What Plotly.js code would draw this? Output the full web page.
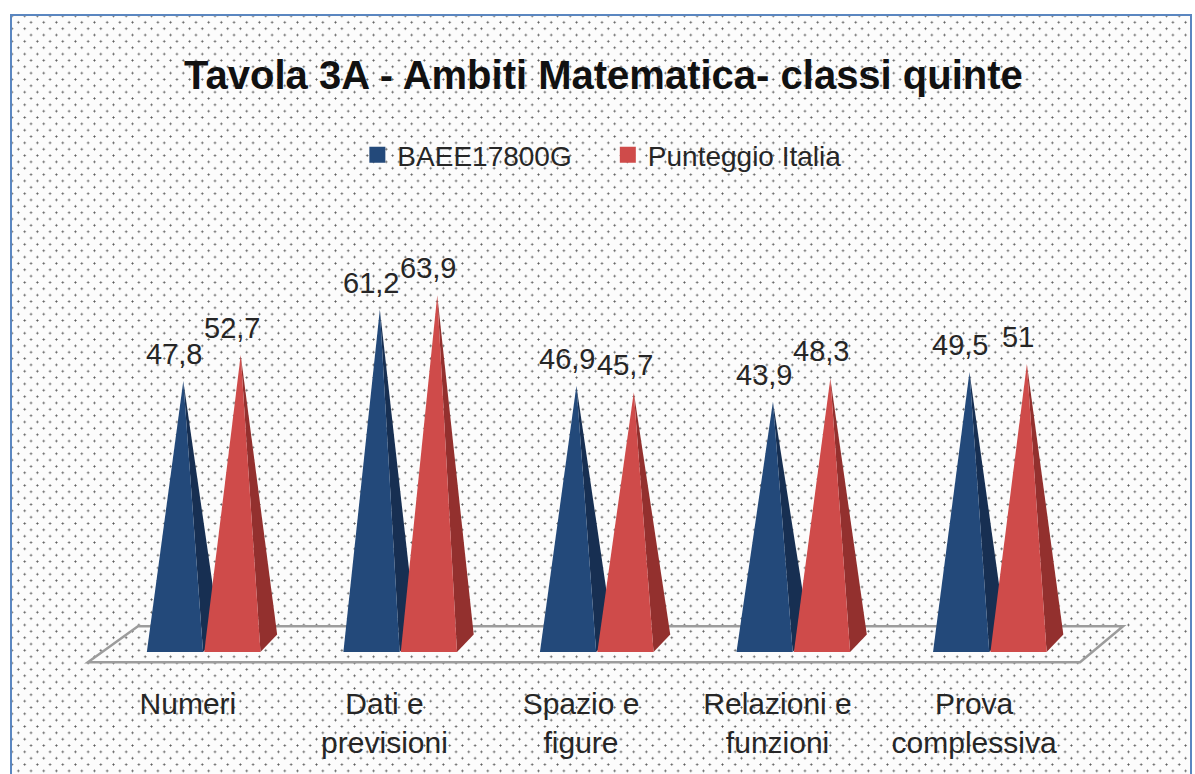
<!DOCTYPE html>
<html>
<head>
<meta charset="utf-8">
<script src="https://cdn.plot.ly/plotly-3.0.1.min.js"></script>
<style>
  html, body { margin: 0; padding: 0; background: #ffffff; overflow: hidden; }
  #frame {
    position: absolute; left: 10px; top: 14px; width: 1178px; height: 800px;
    border: 2px solid #5a86c0;
    background-color: #fcfcfc;
    background-image:
      radial-gradient(circle, #5a5a5a 0.8px, rgba(0,0,0,0) 1.3px),
      radial-gradient(circle, #5a5a5a 0.8px, rgba(0,0,0,0) 1.3px);
    background-size: 12.7px 12.7px, 12.7px 12.7px;
    background-position: 0px 0px, 6.35px 6.35px;
  }
  #chart { position: absolute; left: 0; top: 0; width: 1195px; height: 774px; }
</style>
</head>
<body>
<div id="frame"></div>
<div id="chart"></div>
<script>
// ---- data ----
const categories = ["Numeri", "Dati e<br>previsioni", "Spazio e<br>figure", "Relazioni e<br>funzioni", "Prova<br>complessiva"];
const seriesNames = ["BAEE17800G", "Punteggio Italia"];
const baee = [47.8, 61.2, 46.9, 43.9, 49.5];
const italia = [52.7, 63.9, 45.7, 48.3, 51];

// ---- styling / geometry of the pseudo-3D pyramids ----
const frontColors = ["#23497a", "#cf4b4a"];
const sideColors = ["#172f52", "#93302e"];
const centerOffset = [-0.066, 0.226];   // offset of each series from the category position
const halfWidth = 0.143;
const depthX = 0.085;
const baseFront = -3.0;
const baseBack = 0.3;

const series = [baee, italia];
const traces = [];
const annotations = [];
const fmt = v => String(v).replace('.', ',');

categories.forEach((c, i) => {
  series.forEach((vals, s) => {
    const v = vals[i];
    const xc = i + centerOffset[s];
    const apexX = xc + depthX / 2;
    // side face
    traces.push({
      type: 'scatter', mode: 'lines', fill: 'toself', hoverinfo: 'skip', showlegend: false,
      x: [xc + halfWidth, xc + halfWidth + depthX, apexX, xc + halfWidth],
      y: [baseFront, baseBack, v, baseFront],
      line: { width: 0, color: sideColors[s] }, fillcolor: sideColors[s]
    });
    // front face
    traces.push({
      type: 'scatter', mode: 'lines', fill: 'toself', hoverinfo: 'skip', showlegend: false,
      x: [xc - halfWidth, xc + halfWidth, apexX, xc - halfWidth],
      y: [baseFront, baseFront, v, baseFront],
      line: { width: 0, color: frontColors[s] }, fillcolor: frontColors[s]
    });
    annotations.push({
      x: apexX, y: v, xref: 'x', yref: 'y', text: fmt(v), showarrow: false,
      xshift: -9, yshift: 27,
      font: { family: 'Liberation Sans, Arial, sans-serif', size: 29, color: '#262626' }
    });
  });
});

// legend entries
seriesNames.forEach((n, s) => {
  traces.push({
    type: 'scatter', mode: 'markers', x: [null], y: [null],
    name: s === 0 ? n + '\u00A0\u00A0\u00A0\u00A0' : n,
    marker: { symbol: 'square', size: 17, color: frontColors[s] }
  });
});

// floor of the 3D plot
const floor = { x: [-0.509, 4.539, 4.758, -0.254], y: [-4.9, -4.9, 1.85, 1.85] };

const layout = {
  width: 1195, height: 774,
  margin: { l: 70, r: 44, t: 236, b: 106 },
  paper_bgcolor: 'rgba(0,0,0,0)', plot_bgcolor: 'rgba(0,0,0,0)',
  font: { family: 'Liberation Sans, Arial, sans-serif', color: '#262626' },
  title: {
    text: '<b>Tavola 3A - Ambiti Matematica- classi quinte</b>',
    x: 0.505, xanchor: 'center', y: 0.903, yanchor: 'middle', yref: 'container',
    font: { family: 'Liberation Sans, Arial, sans-serif', size: 40, color: '#111' }
  },
  showlegend: true,
  legend: {
    orientation: 'h', x: 0.492, xanchor: 'center', y: 1.1875, yanchor: 'middle',
    bgcolor: 'rgba(0,0,0,0)', font: { size: 28, color: '#262626' }, itemwidth: 30
  },
  xaxis: {
    range: [-0.6, 4.9], tickvals: [0, 1, 2, 3, 4], ticktext: categories,
    showgrid: false, zeroline: false, showline: false, ticks: '',
    ticklabelstandoff: 15, tickfont: { size: 30, color: '#262626' }, fixedrange: true
  },
  yaxis: {
    range: [-6, 75], showgrid: false, zeroline: false, showline: false,
    showticklabels: false, ticks: '', fixedrange: true
  },
  shapes: [{
    type: 'path', xref: 'x', yref: 'y', layer: 'below',
    path: 'M' + floor.x.map((x, k) => x + ',' + floor.y[k]).join(' L') + ' Z',
    line: { color: '#9c9c9c', width: 2.5 }, fillcolor: 'rgba(0,0,0,0)'
  }],
  annotations: annotations
};

Plotly.newPlot('chart', traces, layout, { displayModeBar: false, staticPlot: true });
</script>
</body>
</html>
